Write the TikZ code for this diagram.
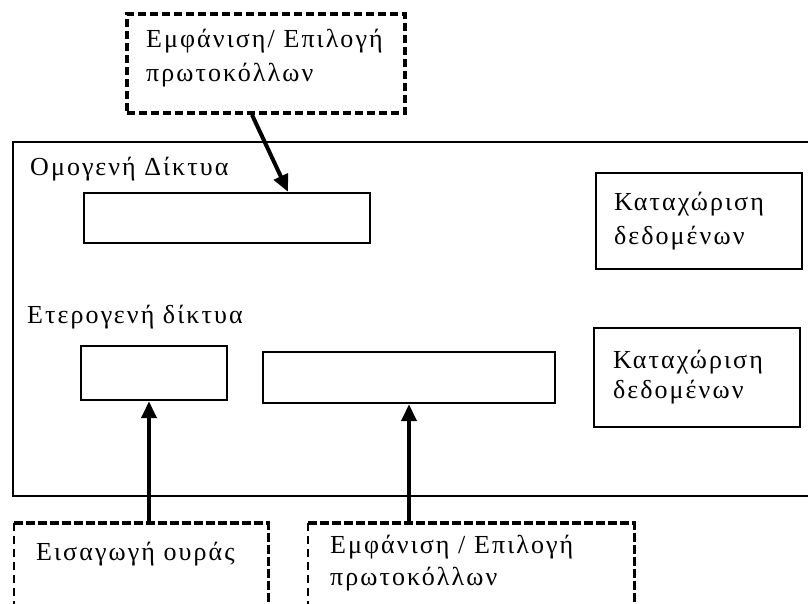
\documentclass[tikz,border=0pt]{standalone}
\usepackage{fontspec}
\setmainfont{Liberation Serif}[LetterSpace=8]
\usetikzlibrary{arrows.meta}
\newcommand{\txtA}{\fontsize{26}{34}\selectfont}
\newcommand{\txtB}{\fontsize{26}{30}\selectfont}
\newcommand{\txtC}{\fontsize{26}{32}\selectfont}
\begin{document}
\begin{tikzpicture}[x=1pt,y=-1pt,
  plainbox/.style={draw, line width=2.4pt, inner sep=0pt},
  textbox/.style={draw, line width=2.4pt, align=left, inner ysep=0pt},
  dashbox/.style={draw, line width=3.6pt, dash pattern=on 8pt off 4pt, inner sep=0pt},
  dthick/.style={line width=3.6pt, dash pattern=on 9pt off 3pt},
  dthin/.style={line width=2pt, dash pattern=on 8pt off 5pt},
  arr/.style={line width=4pt, -{Triangle[length=17pt,width=15pt]}},
  lbl/.style={anchor=base west, inner sep=0pt, font=\txtA}]
\useasboundingbox (0,0) rectangle (808,603);
\clip (0,0) rectangle (808,603);
\fill[white] (0,0) rectangle (808,603);
% main frame
\node[plainbox, minimum width=803pt, minimum height=354pt, anchor=north west] (frame) at (12,141) {};
% inner boxes
\node[plainbox, minimum width=286pt, minimum height=50pt] (homo) at (227,218) {};
\node[plainbox, minimum width=146pt, minimum height=54pt] (het1) at (154,373) {};
\node[plainbox, minimum width=292pt, minimum height=51pt] (het2) at (409,377.5) {};
\node[textbox, minimum width=206pt, minimum height=96pt, text width=170pt, inner xsep=18pt, font=\txtA] (reg1) at (699,221) {Καταχώριση\\δεδομένων};
\node[textbox, minimum width=206pt, minimum height=99pt, text width=168pt, inner xsep=19pt, font=\txtB] (reg2) at (697,377.5) {Καταχώριση\\δεδομένων};
% labels
\node[lbl] (homolbl) at (30,175) {Ομογενή Δίκτυα};
\node[lbl] (hetlbl) at (27,323) {Ετερογενή δίκτυα};
% top dashed box
\node[dashbox, minimum width=278pt, minimum height=99pt] (top) at (266,63.5) {};
\node[lbl, text width=250pt, align=left] (toplbl) at (146,47) {Εμφάνιση/ Επιλογή\\πρωτοκόλλων};
% bottom dashed boxes
\node[minimum width=254pt, minimum height=120pt, anchor=north west, inner sep=0pt] (qbox) at (14,523) {};
\draw[dthick] (qbox.north west) -- (qbox.north east) -- (qbox.south east);
\draw[dthin] (qbox.north west) -- (qbox.south west);
\node[lbl] (qlbl) at (36,560) {Εισαγωγή ουράς};
\node[minimum width=326pt, minimum height=120pt, anchor=north west, inner sep=0pt] (pbox) at (308,523) {};
\draw[dthick] (pbox.north west) -- (pbox.north east) -- (pbox.south east);
\draw[dthin] (pbox.north west) -- (pbox.south west);
\node[lbl, text width=300pt, align=left, font=\txtC] (plbl) at (330,553) {Εμφάνιση / Επιλογή\\πρωτοκόλλων};
% arrows
\draw[arr] ([xshift=-14pt]top.south) -- ([xshift=61pt]homo.north);
\draw[arr] ([xshift=-5pt]het1.south |- qbox.north) -- ([xshift=-5pt]het1.south);
\draw[arr] (het2.south |- pbox.north) -- (het2.south);
\end{tikzpicture}
\end{document}
